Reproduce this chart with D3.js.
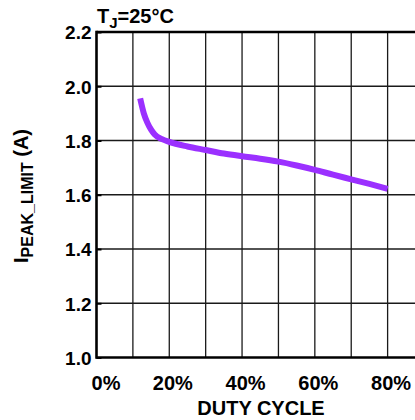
<!DOCTYPE html>
<html>
<head>
<meta charset="utf-8">
<script src="https://cdn.jsdelivr.net/npm/d3@7"></script>
<style>
  body { margin: 0; background: #fff; }
  svg { display: block; font-family: "Liberation Sans", Arial, sans-serif; font-weight: bold; }
</style>
</head>
<body>
<svg id="chart" width="415" height="420"></svg>
<script>
// duty cycle (%) vs peak current limit (A)
const duty = [12, 13, 14, 15, 16, 18, 20, 25, 30, 35, 40, 45, 50, 55, 60, 65, 70, 75, 80];
const ipeak = [1.955, 1.90, 1.865, 1.84, 1.822, 1.805, 1.795, 1.778, 1.765, 1.752, 1.742, 1.733, 1.722, 1.708, 1.692, 1.674, 1.657, 1.640, 1.622];
const xTicks = [0, 20, 40, 60, 80];
const xGrid = [10, 20, 30, 40, 50, 60, 70, 80, 90];
const yTicks = [1.0, 1.2, 1.4, 1.6, 1.8, 2.0, 2.2];

const svg = d3.select("#chart");
const pLeft = 96.5, pTop = 32, pBottom = 357.5, pRight = 424;

const x = d3.scaleLinear().domain([0, 90]).range([pLeft, pRight]);
const y = d3.scaleLinear().domain([1.0, 2.2]).range([pBottom, pTop]);

// grid
svg.append("g")
  .selectAll("line")
  .data(xGrid)
  .join("line")
  .attr("x1", d => x(d)).attr("x2", d => x(d))
  .attr("y1", pTop).attr("y2", pBottom)
  .attr("stroke", "#1a1a1a").attr("stroke-width", 1.3);

svg.append("g")
  .selectAll("line")
  .data(yTicks.slice(1, -1))
  .join("line")
  .attr("x1", pLeft).attr("x2", pRight)
  .attr("y1", d => y(d)).attr("y2", d => y(d))
  .attr("stroke", "#1a1a1a").attr("stroke-width", 1.3);

// frame
svg.append("line").attr("x1", pLeft).attr("x2", pRight).attr("y1", pTop).attr("y2", pTop)
  .attr("stroke", "#000").attr("stroke-width", 2.6);
svg.append("line").attr("x1", pLeft).attr("x2", pRight).attr("y1", pBottom).attr("y2", pBottom)
  .attr("stroke", "#000").attr("stroke-width", 2.6);
svg.append("line").attr("x1", pLeft).attr("x2", pLeft).attr("y1", pTop - 1.3).attr("y2", pBottom + 1.3)
  .attr("stroke", "#000").attr("stroke-width", 2.6);

// y axis ticks + labels
const yAxis = svg.append("g")
  .attr("transform", `translate(${pLeft},0)`)
  .call(d3.axisLeft(y).tickValues(yTicks).tickFormat(d3.format(".1f")).tickSizeInner(-5).tickSizeOuter(0).tickPadding(7));
yAxis.select(".domain").remove();
yAxis.selectAll(".tick line").attr("stroke", "#000").attr("stroke-width", 2);
yAxis.selectAll(".tick text")
  .attr("font-size", 19).attr("font-weight", "bold").attr("font-family", "Liberation Sans, Arial, sans-serif")
  .attr("fill", "#000").attr("x", -5).attr("dy", "0.36em");

// x axis labels
const xAxis = svg.append("g")
  .attr("transform", `translate(0,${pBottom})`)
  .call(d3.axisBottom(x).tickValues(xTicks).tickFormat(d => d + "%").tickSize(0).tickPadding(0));
xAxis.select(".domain").remove();
xAxis.selectAll(".tick text")
  .attr("font-size", 20).attr("font-weight", "bold").attr("font-family", "Liberation Sans, Arial, sans-serif")
  .attr("fill", "#000")
  .attr("y", 0).attr("dy", 32.5)
  .attr("dx", d => d === 0 ? 9 : 3);

// axis titles
svg.append("text")
  .attr("x", 261).attr("y", 415)
  .attr("text-anchor", "middle").attr("font-size", 20)
  .text("DUTY CYCLE");

const yt = svg.append("text")
  .attr("transform", "translate(28,196) rotate(-90)")
  .attr("text-anchor", "middle").attr("font-size", 20);
yt.append("tspan").text("I");
yt.append("tspan").attr("font-size", 16).attr("dy", 5).text("PEAK_LIMIT");
yt.append("tspan").attr("dy", -5).text(" (A)");

const tt = svg.append("text")
  .attr("x", 97).attr("y", 23).attr("font-size", 20);
tt.append("tspan").text("T");
tt.append("tspan").attr("font-size", 15).attr("dy", 5).text("J");
tt.append("tspan").attr("dy", -5).text("=25°C");

// curve
const line = d3.line()
  .x((d, i) => x(duty[i]))
  .y(d => y(d))
  .curve(d3.curveMonotoneX);

svg.append("path")
  .datum(ipeak)
  .attr("d", line)
  .attr("fill", "none")
  .attr("stroke", "#9b30ff")
  .attr("stroke-width", 6);
</script>
</body>
</html>
